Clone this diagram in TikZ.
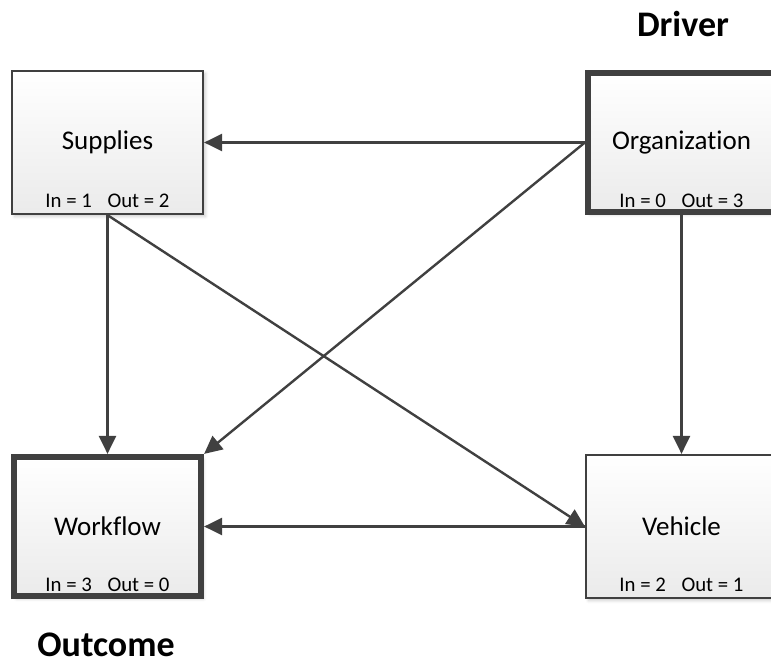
\documentclass[tikz,border=0pt]{standalone}
\usepackage{fontspec}
\setmainfont[Ligatures={NoCommon}]{Carlito}
\usetikzlibrary{arrows.meta,shadows.blur}
\definecolor{ln}{HTML}{404040}
\tikzset{
 box/.style={draw=ln, line width=2.2pt, top color=white, bottom color=black!8,
   minimum width=191pt, minimum height=143pt, inner sep=0pt,
   blur shadow={shadow xshift=2.5pt, shadow yshift=-2.5pt, shadow blur radius=3pt, shadow opacity=20},
   font=\fontsize{27}{32}\selectfont, anchor=north west},
 thickbox/.style={box, line width=6pt, minimum width=187.2pt, minimum height=139.2pt},
 io/.style={font=\fontsize{20.8}{24}\selectfont, inner sep=0pt},
 conn/.style={draw=ln, line width=2.4pt, -{Triangle[length=18pt,width=17pt]}},
 title/.style={font=\bfseries\fontsize{36}{40}\selectfont, inner sep=0pt, anchor=base}
}
\begin{document}
\begin{tikzpicture}[x=1pt,y=-1pt]
\useasboundingbox (0,0) rectangle (771,666);
\node[box] (supplies) at (10.9,69.9) {Supplies};
\node[thickbox] (org) at (584.9,69.9) {Organization};
\node[thickbox] (workflow) at (10.9,453.9) {Workflow};
\node[box] (vehicle) at (584.9,453.9) {Vehicle};
\node[io] (sio) at ([yshift=14pt]supplies.south) {In = 1\hspace{0.75em}Out = 2};
\node[io] (oio) at ([yshift=14pt]org.south) {In = 0\hspace{0.75em}Out = 3};
\node[io] (wio) at ([yshift=14pt]workflow.south) {In = 3\hspace{0.75em}Out = 0};
\node[io] (vio) at ([yshift=14pt]vehicle.south) {In = 2\hspace{0.75em}Out = 1};
\node[title] (driver) at (683,37) {Driver};
\node[title] (outcome) at (106,656) {Outcome};
\draw[conn] (org.west) -- (supplies.east);
\draw[conn] (org.west) -- (workflow.north east);
\draw[conn] (org.south) -- (vehicle.north);
\draw[conn] (supplies.south) -- (workflow.north);
\draw[conn] (supplies.south) -- (vehicle.west);
\draw[conn] (vehicle.west) -- (workflow.east);
\end{tikzpicture}
\end{document}
